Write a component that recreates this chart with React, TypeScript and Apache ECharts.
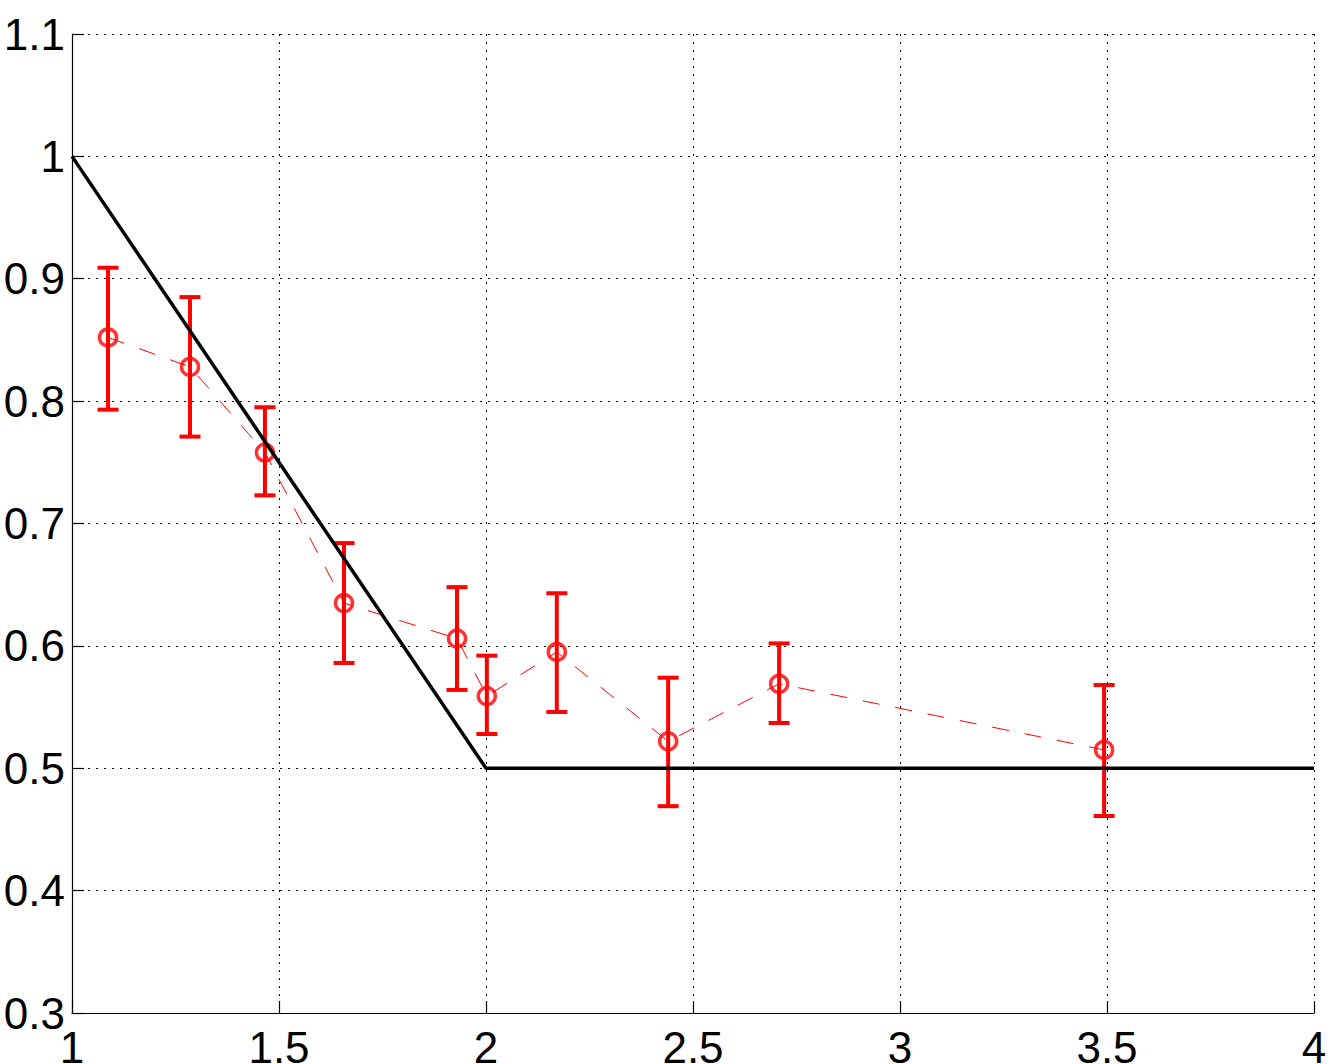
import { useEffect, useRef } from 'react'
import * as echarts from 'echarts'

// measured points: x, mean, lower and upper end of the error bar
const xs = [1.087, 1.285, 1.466, 1.657, 1.93, 2.002, 2.171, 2.44, 2.708, 3.493]
const means = [0.852, 0.828, 0.758, 0.635, 0.606, 0.559, 0.595, 0.522, 0.569, 0.515]
const lows = [0.793, 0.771, 0.723, 0.586, 0.564, 0.528, 0.546, 0.469, 0.537, 0.461]
const highs = [0.909, 0.885, 0.795, 0.684, 0.648, 0.592, 0.643, 0.574, 0.602, 0.568]

// reference curve
const refX = [1, 2, 4]
const refY = [1, 0.5, 0.5]

const font = '"Liberation Sans", Arial, Helvetica, sans-serif'

export default function App() {
  const chartRef = useRef<HTMLDivElement | null>(null)

  useEffect(() => {
    if (!chartRef.current) {
      return
    }

    const chart = echarts.init(chartRef.current, undefined, { renderer: 'svg' })
    const dotted = { color: '#000', width: 1, type: [2, 6] as number[] }

    chart.setOption({
      animation: false,
      backgroundColor: '#fff',
      grid: { left: 72, top: 34, right: 23, bottom: 51, containLabel: false, outerBoundsMode: 'none' },
      xAxis: {
        type: 'value',
        min: 1,
        max: 4,
        interval: 0.5,
        axisLine: { show: true, onZero: false, lineStyle: { color: '#000', width: 1.2 } },
        axisTick: { show: true, inside: true, length: 12, lineStyle: { color: '#000', width: 1.2 } },
        axisLabel: { color: '#000', fontSize: 44, fontFamily: font, margin: 12 },
        splitLine: { show: true, lineStyle: dotted },
      },
      yAxis: {
        type: 'value',
        min: 0.3,
        max: 1.1,
        interval: 0.1,
        axisLine: { show: true, onZero: false, lineStyle: { color: '#000', width: 1.2 } },
        axisTick: { show: true, inside: true, length: 12, lineStyle: { color: '#000', width: 1.2 } },
        axisLabel: {
          color: '#000',
          fontSize: 44,
          fontFamily: font,
          margin: 7,
          formatter: (v: number) => String(+v.toFixed(1)),
        },
        splitLine: { show: true, lineStyle: dotted },
      },
      series: [
        {
          type: 'line',
          data: xs.map((x, i) => [x, means[i]]),
          symbol: 'none',
          lineStyle: { color: '#ff0000', width: 1, type: [17, 16] },
          z: 2,
        },
        {
          type: 'custom',
          data: xs.map((x, i) => [x, lows[i], highs[i]]),
          renderItem: (_params: any, api: any) => {
            const x = api.value(0)
            const pLo = api.coord([x, api.value(1)])
            const pHi = api.coord([x, api.value(2)])
            const w = 10.5
            const style = { stroke: '#ff0000', lineWidth: 4 }
            return {
              type: 'group',
              children: [
                { type: 'line', shape: { x1: pLo[0], y1: pLo[1], x2: pHi[0], y2: pHi[1] }, style },
                { type: 'line', shape: { x1: pHi[0] - w, y1: pHi[1], x2: pHi[0] + w, y2: pHi[1] }, style },
                { type: 'line', shape: { x1: pLo[0] - w, y1: pLo[1], x2: pLo[0] + w, y2: pLo[1] }, style },
              ],
            }
          },
          z: 3,
        },
        {
          type: 'scatter',
          data: xs.map((x, i) => [x, means[i]]),
          symbol: 'circle',
          symbolSize: 17,
          itemStyle: { color: 'rgba(0,0,0,0)', borderColor: '#ff0000', borderWidth: 3.5 },
          z: 4,
        },
        {
          type: 'line',
          data: refX.map((x, i) => [x, refY[i]]),
          symbol: 'none',
          lineStyle: { color: '#000', width: 3.5 },
          z: 5,
        },
      ],
    })

    const resize = () => chart.resize()
    window.addEventListener('resize', resize)
    return () => {
      window.removeEventListener('resize', resize)
      chart.dispose()
    }
  }, [])

  return (
    <div
      ref={chartRef}
      style={{ position: 'fixed', left: 0, top: 0, width: 1337, height: 1064, background: '#fff' }}
    />
  )
}
